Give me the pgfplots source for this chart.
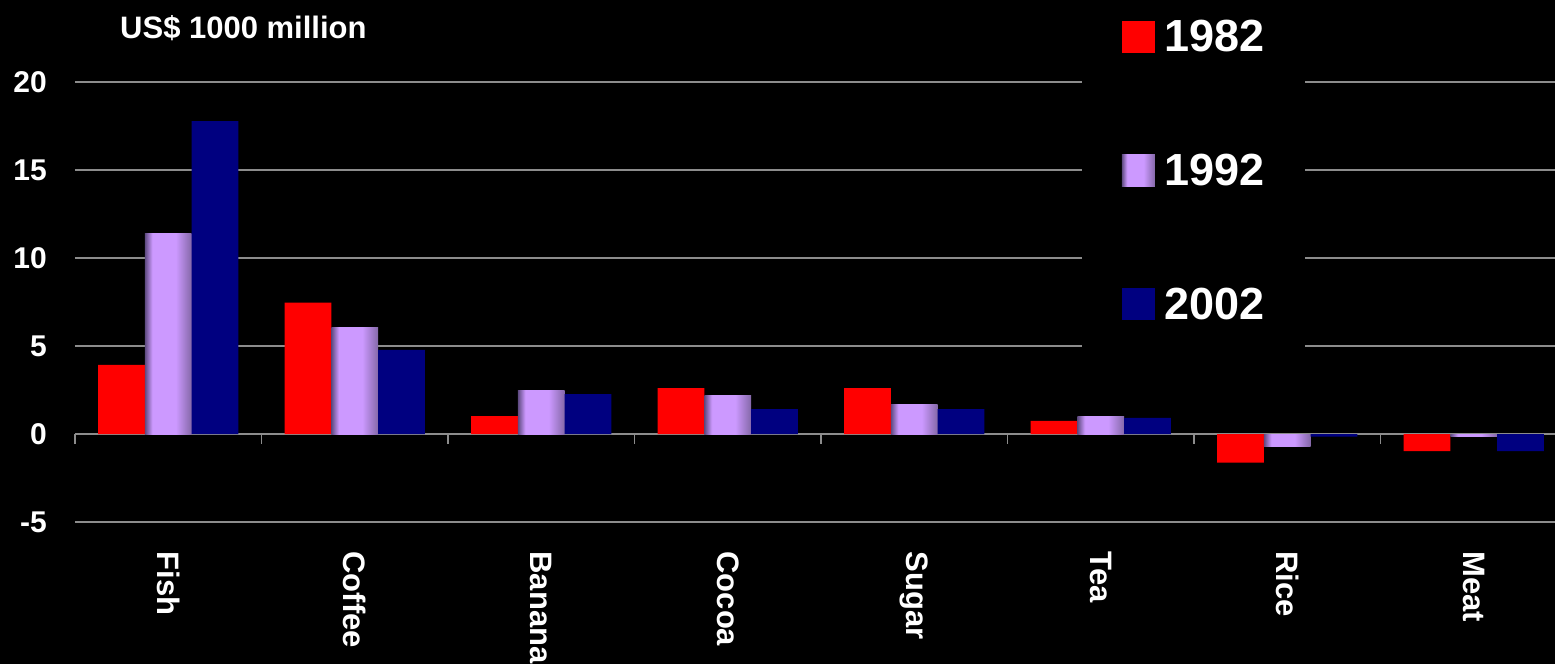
\documentclass[border=0pt]{standalone}
\usepackage{pgfplots}
\pgfplotsset{compat=1.18}
\usepackage{fontspec}
\setmainfont{Liberation Sans}

\definecolor{barred}{HTML}{FF0000}
\definecolor{barnavy}{HTML}{000080}
\definecolor{lav}{HTML}{CC99FF}
\definecolor{lavdark}{HTML}{5E4A80}
\definecolor{lavmid}{HTML}{8468A8}
\definecolor{gridgray}{HTML}{8C8C8C}

% lavender bar fill: dark left edge, light body, darker right edge
\pgfdeclarehorizontalshading{lavbar}{100bp}{%
  color(0bp)=(lavdark); color(25bp)=(lavdark); color(33bp)=(lav);
  color(58bp)=(lav); color(75bp)=(lavmid); color(100bp)=(lavmid)}

% each 1992 bar is its own plot so that the shading spans one bar only
\pgfplotsset{
  lav bar/.style={shade, shading=lavbar, draw=none, bar shift=0pt},
}

\begin{document}
\begin{tikzpicture}
\fill[black] (-75pt,-142pt) rectangle (1480pt,522pt);
\begin{axis}[
  scale only axis, width=1492pt, height=440pt,
  xmin=-0.5, xmax=7.5, ymin=-5, ymax=20,
  ybar=0pt, bar width=46.8pt,
  axis line style={draw=none},
  tick style={draw=none},
  ytick={-5,0,5,10,15,20},
  ymajorgrids, major grid style={gridgray, line width=1.5pt},
  xtick={0,...,7},
  xticklabels={Fish,Coffee,Banana,Cocoa,Sugar,Tea,Rice,Meat},
  tick label style={text=white, font=\bfseries\fontsize{30}{36}\selectfont},
  /pgf/number format/assume math mode=true,
  yticklabel style={anchor=east, inner sep=0pt},
  yticklabel shift=28pt,
  xticklabel style={rotate=-90, anchor=west, inner sep=0pt,
    font=\bfseries\fontsize{31}{36}\selectfont},
  xticklabel shift=25pt,
  clip=false,
  legend cell align=left,
  legend style={at={(0.6747,1.2091)}, anchor=north west,
    fill=black, draw=none, text=white,
    font=\bfseries\fontsize{45}{54}\selectfont,
    inner xsep=40pt, inner ysep=30pt,
    row sep=101pt, column sep=10pt,
    nodes={inner sep=0pt}},
  legend image code/.code={\path[#1] (0pt,-16pt) rectangle (33pt,16pt);},
]
% 1982
\addplot[fill=barred, draw=none, bar shift=-46.8pt] coordinates
  {(0,3.93) (1,7.46) (2,1.02) (3,2.61) (4,2.61) (5,0.74) (6,-1.63) (7,-0.97)};
% 1992
\addplot[lav bar] coordinates {(0,11.39)};
\addplot[lav bar, forget plot] coordinates {(1,6.04)};
\addplot[lav bar, forget plot] coordinates {(2,2.5)};
\addplot[lav bar, forget plot] coordinates {(3,2.16)};
\addplot[lav bar, forget plot] coordinates {(4,1.65)};
\addplot[lav bar, forget plot] coordinates {(5,1.02)};
\addplot[lav bar, forget plot] coordinates {(6,-0.72)};
\addplot[lav bar, forget plot] coordinates {(7,-0.15)};
% 2002
\addplot[fill=barnavy, draw=none, bar shift=46.8pt] coordinates
  {(0,17.77) (1,4.78) (2,2.27) (3,1.42) (4,1.42) (5,0.91) (6,-0.15) (7,-0.97)};
\legend{1982,1992,2002}
% category separators below the zero line
\pgfplotsinvokeforeach{-0.5,0.5,1.5,2.5,3.5,4.5,5.5,6.5}{
  \draw[gridgray, line width=1.7pt] (axis cs:#1,0) -- ++(0pt,-10pt);
}
\end{axis}
\node[anchor=base west, inner sep=0pt, text=white,
  font=\bfseries\fontsize{31}{36}\selectfont] at (45pt,483pt) {US\$ 1000 million};
\pgfresetboundingbox
\path[use as bounding box] (-75pt,-142pt) rectangle (1480pt,522pt);
\end{tikzpicture}
\end{document}
